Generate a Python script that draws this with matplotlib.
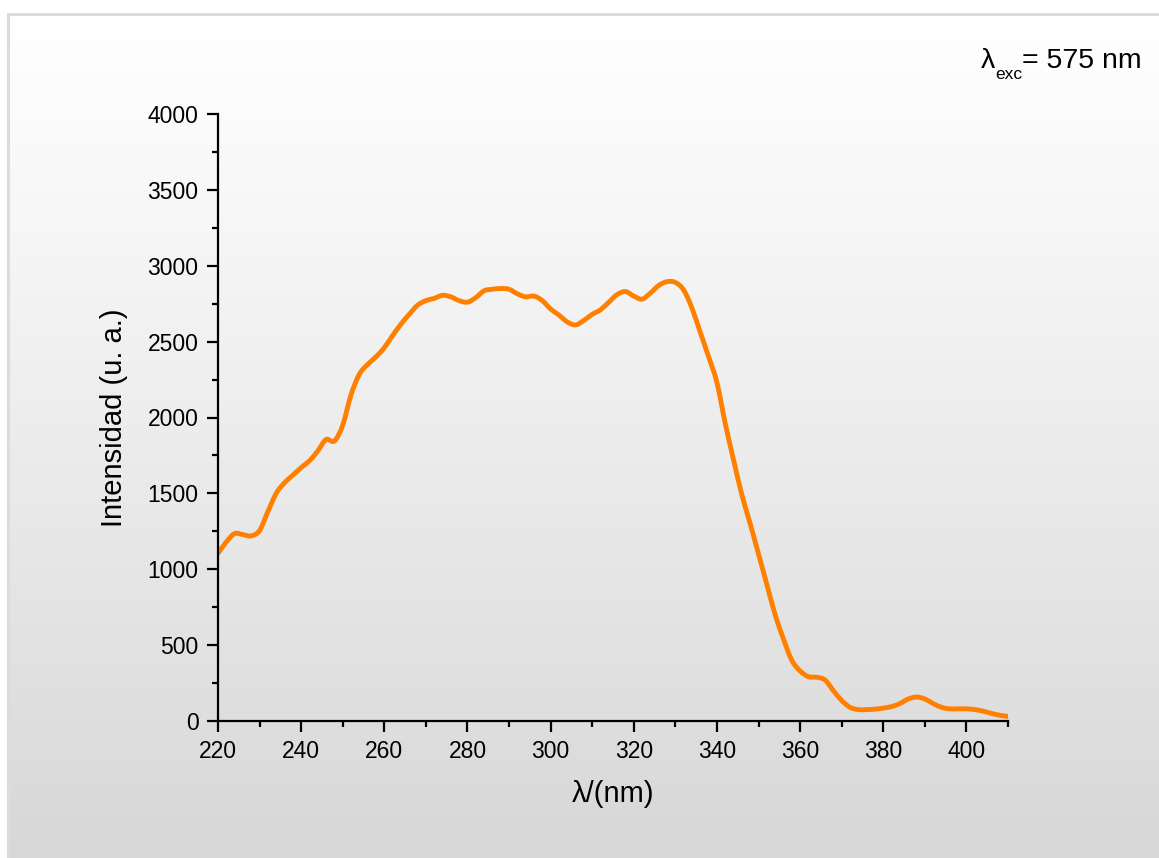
import numpy as np
import matplotlib
matplotlib.use("Agg")
import matplotlib.pyplot as plt
from matplotlib.ticker import MultipleLocator
from matplotlib.patches import Rectangle, PathPatch
from matplotlib.path import Path

plt.rcParams['font.family'] = ['Liberation Sans', 'DejaVu Sans']

# Excitation spectrum (emission monitored at 575 nm)
wavelength = [220, 222, 224, 226, 228, 230, 232, 234, 236, 238, 240, 242, 244, 246,
              248, 250, 252, 254, 256, 258, 260, 262, 264, 266, 268, 270, 272, 274,
              276, 278, 280, 282, 284, 286, 288, 290, 292, 294, 296, 298, 300, 302,
              304, 306, 308, 310, 312, 314, 316, 318, 320, 322, 324, 326, 328, 330,
              332, 334, 336, 338, 340, 342, 344, 346, 348, 350, 352, 354, 356, 358,
              360, 362, 364, 366, 368, 370, 372, 374, 376, 378, 380, 382, 384, 386,
              388, 390, 392, 394, 396, 398, 400, 402, 404, 406, 408, 410]
intensity = [1105, 1180, 1235, 1228, 1220, 1255, 1380, 1500, 1570, 1620, 1670, 1715,
             1780, 1855, 1845, 1950, 2150, 2285, 2350, 2400, 2460, 2540, 2615, 2680,
             2740, 2770, 2785, 2805, 2795, 2770, 2760, 2790, 2835, 2845, 2850, 2845,
             2815, 2795, 2800, 2770, 2715, 2675, 2630, 2610, 2640, 2680, 2710, 2760,
             2810, 2830, 2800, 2780, 2820, 2870, 2895, 2890, 2840, 2720, 2560, 2400,
             2230, 1960, 1720, 1490, 1300, 1100, 900, 700, 540, 400, 330, 292, 288,
             270, 200, 135, 90, 75, 75, 78, 85, 95, 115, 145, 158, 145, 115, 90, 80,
             80, 80, 75, 65, 50, 38, 30]

x_ticks = [220, 240, 260, 280, 300, 320, 340, 360, 380, 400]
y_ticks = [0, 500, 1000, 1500, 2000, 2500, 3000, 3500, 4000]


def smooth_path(xs, ys):
    """Cubic Bezier path through every point (Catmull-Rom tangents)."""
    p = np.column_stack([xs, ys]).astype(float)
    verts = [p[0]]
    codes = [Path.MOVETO]
    n = len(p)
    for i in range(n - 1):
        p0 = p[i - 1] if i > 0 else p[i]
        p1, p2 = p[i], p[i + 1]
        p3 = p[i + 2] if i + 2 < n else p[i + 1]
        c1 = p1 + (p2 - p0) / 6.0
        c2 = p2 - (p3 - p1) / 6.0
        verts += [c1, c2, p2]
        codes += [Path.CURVE4] * 3
    return Path(verts, codes)


W, H = 1159, 858
fig = plt.figure(figsize=(W / 100, H / 100), dpi=100)
fig.patch.set_facecolor('white')

# Grey gradient panel with a light frame
bg = fig.add_axes([9 / W, 0, 1 - 9 / W, 1 - 15 / H], zorder=-5)
grad = np.linspace(0, 1, 256).reshape(-1, 1)
shade = 255 - 40 * grad ** 1.1
img = np.dstack([shade, shade, shade]) / 255.0
bg.imshow(img, aspect='auto', extent=[0, 1, 0, 1], origin='upper')
bg.set_axis_off()
fig.patches.append(Rectangle((7.5 / W, -0.01), 1.1, 1 - 13.5 / H + 0.01,
                             transform=fig.transFigure, fill=False,
                             edgecolor='#dcdcdc', linewidth=2.2, zorder=-4))

ax = fig.add_axes([218 / W, 1 - 721 / H, (1008 - 218) / W, (721 - 114) / H])
ax.patch.set_alpha(0)
ax.add_patch(PathPatch(smooth_path(wavelength, intensity), facecolor='none',
                       edgecolor='#FF8000', linewidth=3.5,
                       joinstyle='round', capstyle='round'))

ax.set_xlim(220, 410)
ax.set_ylim(0, 4000)
ax.set_xticks(x_ticks)
ax.set_yticks(y_ticks)
ax.xaxis.set_minor_locator(MultipleLocator(10))
ax.yaxis.set_minor_locator(MultipleLocator(250))

for side in ('top', 'right'):
    ax.spines[side].set_visible(False)
for side in ('left', 'bottom'):
    ax.spines[side].set_linewidth(1.6)

ax.tick_params(which='major', direction='out', length=8, width=1.6,
               labelsize=16.5, pad=6)
ax.tick_params(which='minor', direction='out', length=4.5, width=1.6)

ax.set_xlabel('λ/(nm)', fontsize=21, labelpad=12)
ax.set_ylabel('Intensidad (u. a.)', fontsize=21, labelpad=14)

# Excitation wavelength annotation with a subscript
fig.canvas.draw()
r = fig.canvas.get_renderer()
base_y = 1 - 68 / H
t1 = fig.text(981 / W, base_y, 'λ', fontsize=20.5, va='baseline')
bb = t1.get_window_extent(r)
t2 = fig.text(bb.x1 / W, 1 - 79 / H, 'exc', fontsize=12.5, va='baseline')
bb2 = t2.get_window_extent(r)
fig.text(bb2.x1 / W, base_y, '= 575 nm', fontsize=20.5, va='baseline')

fig.savefig('out.png', dpi=100)
